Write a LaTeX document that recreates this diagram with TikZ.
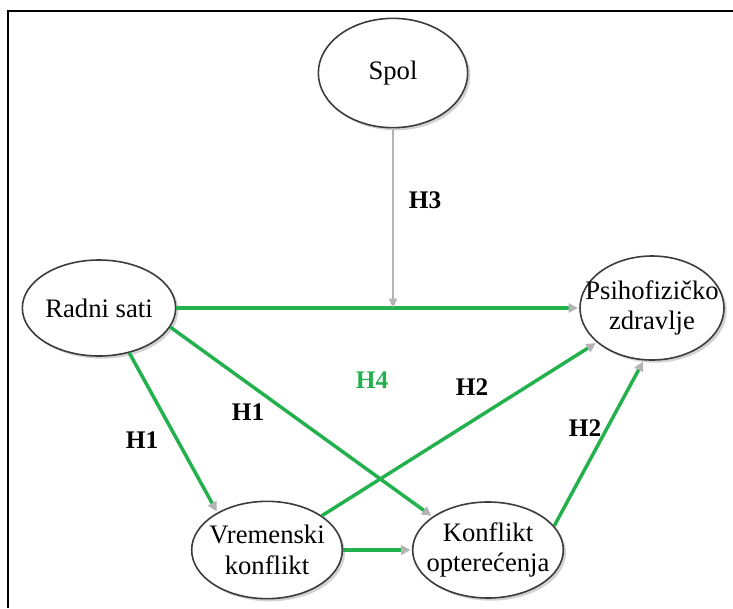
\documentclass[tikz,border=0pt]{standalone}
\usepackage{fontspec}
\setmainfont{Liberation Serif}
\usetikzlibrary{shapes.geometric,arrows.meta,shadows}
\definecolor{PathGreen}{HTML}{22B14C}
\definecolor{TipGray}{HTML}{B4B4B4}
\definecolor{RimGray}{HTML}{3C3C3C}

\begin{document}
\begin{tikzpicture}[x=0.75pt, y=-0.75pt,
		oval/.style={ellipse, draw=RimGray, line width=1.2pt, fill=white, inner sep=0pt,
			drop shadow={shadow xshift=2pt, shadow yshift=-2pt, fill=black!35},
			font=\fontsize{20}{23}\selectfont},
		hyp/.style={font=\fontsize{19}{22}\selectfont\bfseries},
		link/.style={PathGreen, line width=2.6pt, shorten >=1pt,
			-{Triangle[color=TipGray, length=7pt, width=7pt]}},
		moder/.style={TipGray, line width=1.1pt,
			-{Triangle[color=TipGray, length=7pt, width=6pt]}}
	]
	\useasboundingbox (0,0) rectangle (733,608);
	% frame
	\draw[line width=1.6pt] (8,608) -- (8,11) -- (733,11);
	% variables
	\node[oval, minimum width=112pt, minimum height=82pt] (spol) at (393,73) {};
	\node[oval, minimum width=115pt, minimum height=72pt] (radni) at (99,308) {};
	\node[oval, minimum width=108pt, minimum height=78pt] (psiho) at (652,308) {};
	\node[oval, minimum width=113pt, minimum height=73pt] (vrem) at (267,550) {};
	\node[oval, minimum width=113pt, minimum height=72pt] (konf) at (488,550) {};
	\node[font=\fontsize{20}{23}\selectfont] (spoltext) at (spol) {Spol};
	\node[font=\fontsize{20}{23}\selectfont] (radnitext) at (radni) {Radni sati};
	\node[font=\fontsize{20}{23}\selectfont, align=center] (psihotext) at (psiho) {Psihofizičko\\zdravlje};
	\node[font=\fontsize{20}{23}\selectfont, align=center] (vremtext) at (vrem) {Vremenski\\konflikt};
	\node[font=\fontsize{20}{23}\selectfont, align=center] (konftext) at (konf) {Konflikt\\opterećenja};
	\coordinate (h4) at (spol.south |- psiho.west);
	% paths
	\draw[link] (radni.east) -- (psiho.west);
	\draw[moder] (spol.south) -- (h4);
	\draw[link] (radni.-15) -- (konf.149);
	\draw[link] (radni.-56) -- (vrem.143);
	\draw[link] (vrem.32) -- (psiho.212);
	\draw[link] (vrem.east) -- (konf.west);
	\draw[link] (konf.20) -- (psiho.261);
	% hypotheses
	\node[hyp] (lh3) at (425,200) {H3};
	\node[hyp, text=PathGreen] (lh4) at (372,380) {H4};
	\node[hyp] (lh2a) at (472,387) {H2};
	\node[hyp] (lh1a) at (248,412) {H1};
	\node[hyp] (lh1b) at (142,440) {H1};
	\node[hyp] (lh2b) at (585,428) {H2};
\end{tikzpicture}
\end{document}
